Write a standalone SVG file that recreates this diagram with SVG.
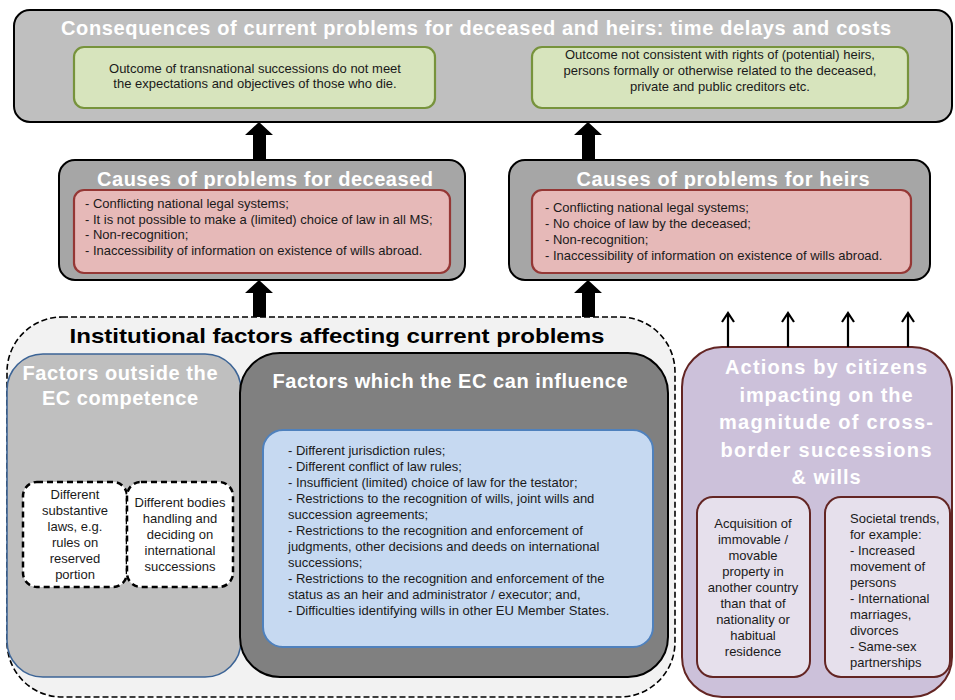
<svg xmlns="http://www.w3.org/2000/svg" width="955" height="700" viewBox="0 0 955 700">
<defs>
<style>
text{font-family:"Liberation Sans",Arial,sans-serif;}
.wt{fill:#ffffff;font-weight:bold;font-size:20px;text-anchor:middle;}
.bt{fill:#1a1a1a;font-size:13px;}
.c{text-anchor:middle;}
.st{fill:#1a1a1a;font-size:13px;}
</style>
</defs>
<rect width="955" height="700" fill="#ffffff"/>

<g id="consequences">
<rect x="14" y="10" width="938" height="112" rx="16" fill="#bfbfbf" stroke="#000" stroke-width="2"/>
<text class="wt" x="476" y="35" font-size="19.5" textLength="830" lengthAdjust="spacing">Consequences of current problems for deceased and heirs: time delays and costs</text>
</g>
<g id="outcome-deceased">
<rect x="74" y="47" width="361" height="61" rx="10" fill="#d7e4bd" stroke="#77933c" stroke-width="2.2"/>
<text class="bt c" x="255" y="73">Outcome of transnational successions do not meet</text>
<text class="bt c" x="255" y="88">the expectations and objectives of those who die.</text>
</g>
<g id="outcome-heirs">
<rect x="532" y="47" width="376" height="61" rx="10" fill="#d7e4bd" stroke="#77933c" stroke-width="2.2"/>
<text class="bt c" x="720" y="59">Outcome not consistent with rights of (potential) heirs,</text>
<text class="bt c" x="720" y="75">persons formally or otherwise related to the deceased,</text>
<text class="bt c" x="720" y="91">private and public creditors etc.</text>
</g>

<g id="causes-deceased">
<rect x="59" y="160" width="406" height="120" rx="16" fill="#a6a6a6" stroke="#000" stroke-width="2"/>
<text class="wt" x="265" y="186" textLength="336" lengthAdjust="spacing">Causes of problems for deceased</text>
<rect x="74" y="190" width="376" height="83" rx="10" fill="#e6b9b8" stroke="#953735" stroke-width="2.2"/>
<text class="bt" x="85" y="208">- Conflicting national legal systems;</text>
<text class="bt" x="85" y="224">- It is not possible to make a (limited) choice of law in all MS;</text>
<text class="bt" x="85" y="239">- Non-recognition;</text>
<text class="bt" x="85" y="255">- Inaccessibility of information on existence of wills abroad.</text>
</g>
<g id="causes-heirs">
<rect x="509" y="160" width="421" height="120" rx="16" fill="#a6a6a6" stroke="#000" stroke-width="2"/>
<text class="wt" x="723" y="186" textLength="293" lengthAdjust="spacing">Causes of problems for heirs</text>
<rect x="532" y="190" width="379" height="83" rx="10" fill="#e6b9b8" stroke="#953735" stroke-width="2.2"/>
<text class="bt" x="545" y="212">- Conflicting national legal systems;</text>
<text class="bt" x="545" y="228">- No choice of law by the deceased;</text>
<text class="bt" x="545" y="244">- Non-recognition;</text>
<text class="bt" x="545" y="260">- Inaccessibility of information on existence of wills abroad.</text>
</g>

<g id="institutional">
<rect x="7" y="317" width="668" height="380" rx="55" fill="#f2f2f2" stroke="#000" stroke-width="1.6" stroke-dasharray="6,3"/>
<text x="337" y="343" font-size="21" font-weight="bold" fill="#000" text-anchor="middle" textLength="535" lengthAdjust="spacingAndGlyphs">Institutional factors affecting current problems</text>
</g>
<g id="factors-outside">
<rect x="7" y="354" width="234" height="323" rx="36" fill="#bfbfbf" stroke="#3c6496" stroke-width="1.6"/>
<text class="wt" x="120" y="380" textLength="195" lengthAdjust="spacing">Factors outside the</text>
<text class="wt" x="120" y="405" textLength="156" lengthAdjust="spacing">EC competence</text>
</g>
<g id="substantive-laws">
<rect x="23" y="482" width="104" height="105" rx="14" fill="#ffffff" stroke="#000" stroke-width="2.5" stroke-dasharray="6,4"/>
<text class="bt c" x="75" y="499">Different</text>
<text class="bt c" x="75" y="515">substantive</text>
<text class="bt c" x="75" y="531">laws, e.g.</text>
<text class="bt c" x="75" y="547">rules on</text>
<text class="bt c" x="75" y="563">reserved</text>
<text class="bt c" x="75" y="579">portion</text>
</g>
<g id="different-bodies">
<rect x="127" y="482" width="106" height="105" rx="14" fill="#ffffff" stroke="#000" stroke-width="2.5" stroke-dasharray="6,4"/>
<text class="bt c" x="180" y="507">Different bodies</text>
<text class="bt c" x="180" y="523">handling and</text>
<text class="bt c" x="180" y="539">deciding on</text>
<text class="bt c" x="180" y="555">international</text>
<text class="bt c" x="180" y="571">successions</text>
</g>
<g id="factors-ec">
<rect x="240" y="353" width="428" height="324" rx="40" fill="#808080" stroke="#000" stroke-width="2"/>
<text class="wt" x="450" y="388" textLength="355" lengthAdjust="spacing">Factors which the EC can influence</text>
<rect x="263" y="430" width="390" height="217" rx="20" fill="#c6d9f1" stroke="#4f81bd" stroke-width="2"/>
<text class="bt" x="288" y="455">- Different jurisdiction rules;</text>
<text class="bt" x="288" y="471">- Different conflict of law rules;</text>
<text class="bt" x="288" y="487">- Insufficient (limited) choice of law for the testator;</text>
<text class="bt" x="288" y="503">- Restrictions to the recognition of wills, joint wills and</text>
<text class="bt" x="288" y="519">succession agreements;</text>
<text class="bt" x="288" y="535">- Restrictions to the recognition and enforcement of</text>
<text class="bt" x="288" y="551">judgments, other decisions and deeds on international</text>
<text class="bt" x="288" y="567">successions;</text>
<text class="bt" x="288" y="583">- Restrictions to the recognition and enforcement of the</text>
<text class="bt" x="288" y="599">status as an heir and administrator / executor; and,</text>
<text class="bt" x="288" y="615">- Difficulties identifying wills in other EU Member States.</text>
</g>

<g id="actions">
<rect x="682" y="347" width="270" height="350" rx="40" fill="#ccc1da" stroke="#632523" stroke-width="2"/>
<text class="wt" x="826" y="374" font-size="21" textLength="202" lengthAdjust="spacing">Actions by citizens</text>
<text class="wt" x="826" y="402" font-size="21" textLength="173" lengthAdjust="spacing">impacting on the</text>
<text class="wt" x="826" y="429" font-size="21" textLength="214" lengthAdjust="spacing">magnitude of cross-</text>
<text class="wt" x="826" y="457" font-size="21" textLength="211" lengthAdjust="spacing">border successions</text>
<text class="wt" x="826" y="484" font-size="21" textLength="69" lengthAdjust="spacing">&amp; wills</text>
</g>
<g id="acquisition">
<rect x="697" y="497" width="113" height="180" rx="16" fill="#e6e0ec" stroke="#632523" stroke-width="2"/>
<text class="st c" x="753" y="528">Acquisition of</text>
<text class="st c" x="753" y="544">immovable /</text>
<text class="st c" x="753" y="560">movable</text>
<text class="st c" x="753" y="576">property in</text>
<text class="st c" x="753" y="592">another country</text>
<text class="st c" x="753" y="608">than that of</text>
<text class="st c" x="753" y="624">nationality or</text>
<text class="st c" x="753" y="640">habitual</text>
<text class="st c" x="753" y="656">residence</text>
</g>
<g id="societal-trends">
<rect x="825" y="497" width="125" height="180" rx="16" fill="#e6e0ec" stroke="#632523" stroke-width="2"/>
<text class="st" x="850" y="523">Societal trends,</text>
<text class="st" x="850" y="539">for example:</text>
<text class="st" x="850" y="555">- Increased</text>
<text class="st" x="850" y="571">movement of</text>
<text class="st" x="850" y="587">persons</text>
<text class="st" x="850" y="603">- International</text>
<text class="st" x="850" y="619">marriages,</text>
<text class="st" x="850" y="635">divorces</text>
<text class="st" x="850" y="651">- Same-sex</text>
<text class="st" x="850" y="667">partnerships</text>
</g>

<g id="connectors">
<g fill="#000">
<polygon points="253,160 253,135 245,135 259,122 273,135 266,135 266,160"/>
<polygon points="582,160 582,135 574,135 588,122 602,135 595,135 595,160"/>
<polygon points="253,317 253,293 245,293 259,280 273,293 266,293 266,317"/>
<polygon points="582,317 582,293 574,293 588,280 602,293 595,293 595,317"/>
</g>
<g fill="none" stroke="#000" stroke-width="2.2">
<path d="M728,347 V313 M722,322 L728,313 L734,322"/>
<path d="M788,347 V313 M782,322 L788,313 L794,322"/>
<path d="M848,347 V313 M842,322 L848,313 L854,322"/>
<path d="M908,347 V313 M902,322 L908,313 L914,322"/>
</g>
</g>
</svg>
